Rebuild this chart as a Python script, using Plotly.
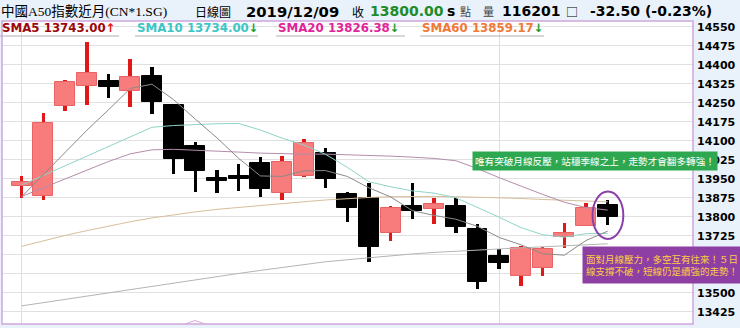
import plotly.graph_objects as go

# ---------------- data ----------------
idx = list(range(28))
opens = [13922, 13883, 14237, 14317, 14337, 14297, 14357, 14241, 14080, 13951,
         13960, 14011, 13892, 13961, 14050, 13888, 13873, 13735, 13843, 13832,
         13843, 13750, 13646, 13567, 13596, 13718, 13763, 13846]
highs = [13962, 14208, 14338, 14491, 14362, 14421, 14390, 14243, 14096, 13984,
         14007, 14037, 14040, 14107, 14071, 13899, 13934, 13843, 13934, 13873,
         13873, 13771, 13672, 13686, 13679, 13776, 13853, 13866]
lows = [13875, 13866, 14217, 14241, 14267, 14234, 14204, 13967, 13896, 13892,
        13901, 13879, 13866, 13958, 13913, 13780, 13622, 13705, 13791, 13770,
        13735, 13515, 13594, 13528, 13567, 13675, 13763, 13769]
closes = [13937, 14169, 14333, 14366, 14311, 14350, 14254, 14028, 13980, 13940,
          13948, 13908, 14015, 14090, 13948, 13836, 13682, 13833, 13822, 13850,
          13761, 13543, 13616, 13675, 13673, 13735, 13833, 13800]

sma5 = [13879, 13967, 14054, 14141, 14222, 14306, 14323, 14262, 14185, 14111,
        14030, 13961, 13959, 13981, 13982, 13959, 13914, 13878, 13824, 13805,
        13790, 13762, 13718, 13689, 13654, 13648, 13706, 13743]
sma10 = [13925, 13963, 14001, 14039, 14077, 14115, 14153, 14160, 14164, 14167,
         14168, 14142, 14110, 14083, 14046, 13995, 13938, 13918, 13902, 13893,
         13875, 13838, 13798, 13757, 13729, 13719, 13733, 13734]
sma20 = [13880, 13915, 13950, 13985, 14018, 14048, 14064, 14066, 14063, 14059,
         14055, 14051, 14048, 14047, 14047, 14045, 14042, 14039, 14035, 14030,
         14021, 13990, 13954, 13920, 13888, 13857, 13836, 13826]
sma60 = [13683, 13705, 13726, 13745, 13763, 13780, 13795, 13808, 13819, 13829,
         13837, 13845, 13852, 13859, 13866, 13872, 13876, 13879, 13880, 13880,
         13879, 13877, 13875, 13872, 13868, 13865, 13862, 13859]
long_ma = [13448, 13461, 13474, 13487, 13500, 13513, 13526, 13539, 13552, 13565,
           13576, 13588, 13600, 13611, 13622, 13630, 13638, 13646, 13653, 13659,
           13664, 13669, 13673, 13677, 13681, 13685, 13689, 13693]

y_ticks = [13425, 13500, 13575, 13650, 13725, 13800, 13875, 13950, 14025,
           14100, 14175, 14250, 14325, 14400, 14475, 14550]
# the labels 13575 / 13650 are hidden under the note box in the reference
y_tick_text = ["13425", "13500", "", "", "13725", "13800", "13875", "13950", "14025",
               "14100", "14175", "14250", "14325", "14400", "14475", "14550"]
month_marks = [0, 22]

title_name = "中國A50指數近月(CN*1.SG)"
title_kind = "日線圖"
title_date = "2019/12/09"
last_close = "13800.00"
volume = "116201"
change_txt = "-32.50 (-0.23%)"
sma_labels = [("SMA5 13743.00", "↑", "#9a0a0a", "#e81010"),
              ("SMA10 13734.00", "↓", "#3cc6c6", "#1a9a2a"),
              ("SMA20 13826.38", "↓", "#e0259a", "#1a9a2a"),
              ("SMA60 13859.17", "↓", "#f07a38", "#1a9a2a")]
note_green = "唯有突破月線反壓，站穩季線之上，走勢才會翻多轉強！"
note_purple = "面對月線壓力，多空互有往來！５日<br>線支撐不破，短線仍是續強的走勢！"

# ---------------- geometry helpers ----------------
W, H = 740, 328
ML, MR, MT, MB = 2, 47, 21, 4
PW, PH = W - ML - MR, H - MT - MB


def px(xp):
    return (xp - ML) / PW


def py(yp):
    return (H - MB - yp) / PH


UP_FILL, UP_LINE = "#f87c7c", "#e01818"
DN_FILL = "#000000"

up = [c >= o for o, c in zip(opens, closes)]

fig = go.Figure()

# wicks (thin bars)
for flag, col in [(True, UP_LINE), (False, DN_FILL)]:
    xs = [i for i in idx if up[i] == flag]
    fig.add_trace(go.Bar(
        x=xs, base=[lows[i] for i in xs], y=[highs[i] - lows[i] for i in xs],
        width=0.16, marker=dict(color=col, line=dict(width=0)),
        hoverinfo="skip"))

# bodies
for flag, fill, lc in [(True, UP_FILL, "#e86464"), (False, DN_FILL, DN_FILL)]:
    xs = [i for i in idx if up[i] == flag]
    fig.add_trace(go.Bar(
        x=xs, base=[min(opens[i], closes[i]) for i in xs],
        y=[abs(closes[i] - opens[i]) for i in xs],
        width=0.92, marker=dict(color=fill, line=dict(color=lc, width=1)),
        hoverinfo="skip"))

# moving averages
for series, col in [(long_ma, "#b4b4b4"), (sma60, "#d6bf9c"), (sma20, "#b58cab"),
                    (sma10, "#8fd4c8"), (sma5, "#8a8a8a")]:
    fig.add_trace(go.Scatter(x=idx, y=series, mode="lines",
                             line=dict(color=col, width=1), hoverinfo="skip"))

annotations = []


def add_text(x, y, text, size, color="#000", family="DejaVu Sans", **kw):
    annotations.append(dict(xref="paper", yref="paper", x=px(x), y=py(y),
                            xanchor="left", yanchor="middle", text=text,
                            showarrow=False,
                            font=dict(size=size, color=color, family=family), **kw))


CJK = "Noto Sans CJK TC"
add_text(-1, 11, title_name, 13.5, family="Liberation Serif, " + CJK)
add_text(193, 11, title_kind, 12, family=CJK)
add_text(244, 11, "<b>" + title_date + "</b>", 14.8)
add_text(350, 11, "收", 12, family=CJK)
add_text(368, 11, "<b>" + last_close + "</b>", 14, color="#1e8c2a")
add_text(445, 11, "<b>s</b>", 14)
add_text(458, 11, "點", 11, color="#444", family=CJK)
add_text(481, 11, "量", 11, color="#444", family=CJK)
add_text(500, 11, "<b>" + volume + "</b>", 14)
add_text(564, 11, "□", 12, family=CJK)
add_text(588, 11, "<b>" + change_txt + "</b>", 14)

label_x = [0, 135, 276, 420]
for (txt, arr, col, acol), lx in zip(sma_labels, label_x):
    add_text(lx, 28, "<b>" + txt + "</b><span style='color:%s'><b>%s</b></span>" % (acol, arr),
             11.8, color=col)

# notes
annotations.append(dict(xref="paper", yref="paper", x=px(472), y=py(161),
                        xanchor="left", yanchor="middle", text=note_green,
                        showarrow=False, bgcolor="#2ea850", borderpad=2,
                        font=dict(size=9.6, color="#ffffff", family=CJK)))
annotations.append(dict(xref="paper", yref="paper", x=px(582), y=py(265),
                        xanchor="left", yanchor="middle", text=note_purple,
                        showarrow=False, bgcolor="#8d3fa3", borderpad=3,
                        align="left", height=30,
                        font=dict(size=9.5, color="#ffcc44", family=CJK)))

shapes = []
# underlines of legend labels
for x0, x1 in [(0, 119), (135, 258), (276, 405), (420, 544)]:
    shapes.append(dict(type="line", xref="paper", yref="paper",
                       x0=px(x0), x1=px(x1), y0=py(36), y1=py(36),
                       line=dict(color="#b0b0b0", width=1)))
# plot border
shapes.append(dict(type="rect", xref="paper", yref="paper", x0=0, x1=1, y0=0, y1=1,
                   line=dict(color="#cfa6dc", width=1.5), layer="above"))
# small marker on the bottom border
shapes.append(dict(type="path", xref="paper", yref="paper",
                   path="M %f %f L %f %f L %f %f" % (px(185), py(324), px(195), py(320.5),
                                                     px(205), py(324)),
                   line=dict(color="#d8a8d8", width=1), layer="above"))
# highlight ellipse around last candle
last = idx[-1]
shapes.append(dict(type="circle", xref="x", yref="y",
                   x0=last - 0.7, x1=last + 0.72, y0=13712, y1=13899,
                   line=dict(color="#8a3fa8", width=2)))

fig.update_layout(
    width=W, height=H,
    margin=dict(l=ML, r=MR, t=MT, b=MB, pad=0, autoexpand=False),
    paper_bgcolor="#e9f1fa", plot_bgcolor="#ffffff",
    barmode="overlay", bargap=0, showlegend=False, hovermode=False,
    annotations=annotations, shapes=shapes,
    xaxis=dict(range=[-0.908, 30.93], tickvals=month_marks, showticklabels=False,
               showgrid=True, gridcolor="#dedede", gridwidth=1, zeroline=False,
               ticks="", showline=False, fixedrange=True, automargin=False),
    yaxis=dict(range=[13376.4, 14572.5], side="right", tickvals=y_ticks,
               ticktext=y_tick_text, automargin=False,
               showgrid=True, gridcolor="#e0e0e0", gridwidth=1, zeroline=False,
               ticks="", showline=False, ticklabelstandoff=3,
               tickfont=dict(family="DejaVu Sans", size=11, color="#000", weight="bold")),
)

fig.write_html("out.html")
